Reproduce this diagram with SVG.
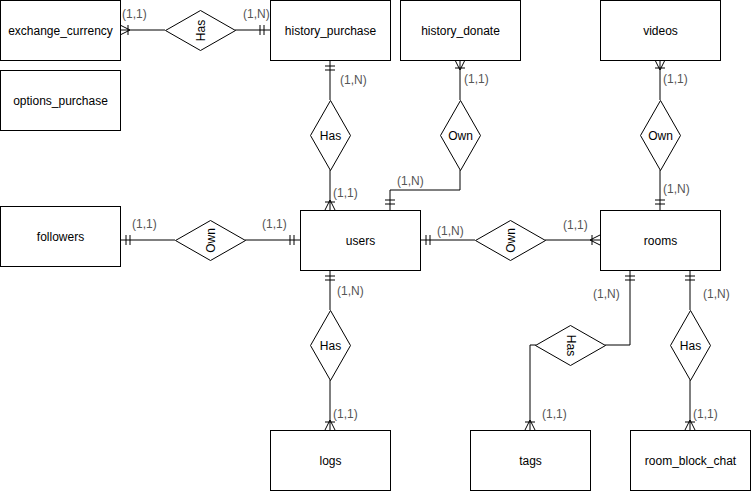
<svg xmlns="http://www.w3.org/2000/svg" width="751" height="491" viewBox="0 0 751 491">
<style>
.ent{fill:#fff;stroke:#000;stroke-width:1}
.rel{fill:#fff;stroke:#000;stroke-width:1}
.t{font-family:"Liberation Sans",Arial,sans-serif;font-size:12px;fill:#000;text-anchor:middle;dominant-baseline:central}
.lb{font-family:"Liberation Sans",Arial,sans-serif;font-size:12px;fill:#555}
.c{fill:none;stroke:#000;stroke-width:1}
</style>
<defs>
<marker id="one" markerUnits="userSpaceOnUse" markerWidth="30" markerHeight="30" viewBox="-15 -15 30 30" refX="0" refY="0" orient="auto" overflow="visible">
<path d="M-6,-5 L-6,5 M-10,-5 L-10,5" stroke="#000" stroke-width="1" fill="none"/>
</marker>
<marker id="many" markerUnits="userSpaceOnUse" markerWidth="30" markerHeight="30" viewBox="-15 -15 30 30" refX="0" refY="0" orient="auto" overflow="visible">
<path d="M-10,0 L0,-5 M-10,0 L0,5 M-8,-5 L-8,5" stroke="#000" stroke-width="1" fill="none"/>
</marker>
</defs>
<rect width="751" height="491" fill="#fff"/>

<g id="connectors">
<path class="c" d="M165,30 L120,30" marker-end="url(#many)"/>
<path class="c" d="M235,30 L270,30" marker-end="url(#one)"/>
<path class="c" d="M330,100 L330,60" marker-end="url(#one)"/>
<path class="c" d="M330,170 L330,210" marker-end="url(#many)"/>
<path class="c" d="M460,100 L460,60" marker-end="url(#many)"/>
<path class="c" d="M460,170 L460,190 L390,190 L390,210" marker-end="url(#one)"/>
<path class="c" d="M660,100 L660,60" marker-end="url(#many)"/>
<path class="c" d="M660,170 L660,210" marker-end="url(#one)"/>
<path class="c" d="M175,240 L120,240" marker-end="url(#one)"/>
<path class="c" d="M245,240 L300,240" marker-end="url(#one)"/>
<path class="c" d="M475,240 L420,240" marker-end="url(#one)"/>
<path class="c" d="M545,240 L600,240" marker-end="url(#many)"/>
<path class="c" d="M330,310 L330,270" marker-end="url(#one)"/>
<path class="c" d="M330,380 L330,430" marker-end="url(#many)"/>
<path class="c" d="M605,345 L630,345 L630,270" marker-end="url(#one)"/>
<path class="c" d="M536,345 L530,345 L530,430" marker-end="url(#many)"/>
<path class="c" d="M690,310 L690,270" marker-end="url(#one)"/>
<path class="c" d="M690,380 L690,430" marker-end="url(#many)"/>
</g>

<g id="labels">
<text class="lb" x="122" y="18">(1,1)</text>
<text class="lb" x="243" y="18">(1,N)</text>
<text class="lb" x="340" y="84">(1,N)</text>
<text class="lb" x="333" y="197">(1,1)</text>
<text class="lb" x="464" y="83">(1,1)</text>
<text class="lb" x="397" y="185">(1,N)</text>
<text class="lb" x="663" y="83">(1,1)</text>
<text class="lb" x="663" y="193">(1,N)</text>
<text class="lb" x="132" y="228">(1,1)</text>
<text class="lb" x="262" y="228">(1,1)</text>
<text class="lb" x="437" y="235">(1,N)</text>
<text class="lb" x="563" y="229">(1,1)</text>
<text class="lb" x="337" y="295">(1,N)</text>
<text class="lb" x="333" y="418">(1,1)</text>
<text class="lb" x="593" y="298">(1,N)</text>
<text class="lb" x="542" y="418">(1,1)</text>
<text class="lb" x="703" y="298">(1,N)</text>
<text class="lb" x="693" y="418">(1,1)</text>
</g>

<g id="exchange_currency"><rect class="ent" x="0.5" y="0.5" width="120" height="60"/><text class="t" x="60.5" y="30.5">exchange_currency</text></g>
<g id="options_purchase"><rect class="ent" x="0.5" y="70.5" width="120" height="60"/><text class="t" x="60.5" y="100.5">options_purchase</text></g>
<g id="history_purchase"><rect class="ent" x="270.5" y="0.5" width="120" height="60"/><text class="t" x="330.5" y="30.5">history_purchase</text></g>
<g id="history_donate"><rect class="ent" x="400.5" y="0.5" width="120" height="60"/><text class="t" x="460.5" y="30.5">history_donate</text></g>
<g id="videos"><rect class="ent" x="600.5" y="0.5" width="120" height="60"/><text class="t" x="660.5" y="30.5">videos</text></g>
<g id="followers"><rect class="ent" x="0.5" y="206.5" width="120" height="60"/><text class="t" x="60.5" y="236.5">followers</text></g>
<g id="users"><rect class="ent" x="300.5" y="210.5" width="120" height="60"/><text class="t" x="360.5" y="240.5">users</text></g>
<g id="rooms"><rect class="ent" x="600.5" y="210.5" width="120" height="60"/><text class="t" x="660.5" y="240.5">rooms</text></g>
<g id="logs"><rect class="ent" x="270.5" y="430.5" width="120" height="60"/><text class="t" x="330.5" y="460.5">logs</text></g>
<g id="tags"><rect class="ent" x="470.5" y="430.5" width="120" height="60"/><text class="t" x="530.5" y="460.5">tags</text></g>
<g id="room_block_chat"><rect class="ent" x="630.5" y="430.5" width="120" height="60"/><text class="t" x="690.5" y="460.5">room_block_chat</text></g>

<g id="rel_exchange_has"><polygon class="rel" points="165.5,30.5 200.5,10.5 235.5,30.5 200.5,50.5"/><text class="t" transform="translate(200.5,30.5) rotate(-90)">Has</text></g>
<g id="rel_purchase_has"><polygon class="rel" points="330.5,100.5 350.5,135.5 330.5,170.5 310.5,135.5"/><text class="t" x="330.5" y="135.5">Has</text></g>
<g id="rel_donate_own"><polygon class="rel" points="460.5,100.5 480.5,135.5 460.5,170.5 440.5,135.5"/><text class="t" x="460.5" y="135.5">Own</text></g>
<g id="rel_videos_own"><polygon class="rel" points="660.5,100.5 680.5,135.5 660.5,170.5 640.5,135.5"/><text class="t" x="660.5" y="135.5">Own</text></g>
<g id="rel_followers_own"><polygon class="rel" points="175.5,240.5 210.5,220.5 245.5,240.5 210.5,260.5"/><text class="t" transform="translate(210.5,240.5) rotate(-90)">Own</text></g>
<g id="rel_rooms_own"><polygon class="rel" points="475.5,240.5 510.5,220.5 545.5,240.5 510.5,260.5"/><text class="t" transform="translate(510.5,240.5) rotate(-90)">Own</text></g>
<g id="rel_logs_has"><polygon class="rel" points="330.5,310.5 350.5,345.5 330.5,380.5 310.5,345.5"/><text class="t" x="330.5" y="345.5">Has</text></g>
<g id="rel_tags_has"><polygon class="rel" points="535.5,345.5 570.5,325.5 605.5,345.5 570.5,365.5"/><text class="t" transform="translate(570.5,345.5) rotate(90)">Has</text></g>
<g id="rel_chat_has"><polygon class="rel" points="690.5,310.5 710.5,345.5 690.5,380.5 670.5,345.5"/><text class="t" x="690.5" y="345.5">Has</text></g>
</svg>
